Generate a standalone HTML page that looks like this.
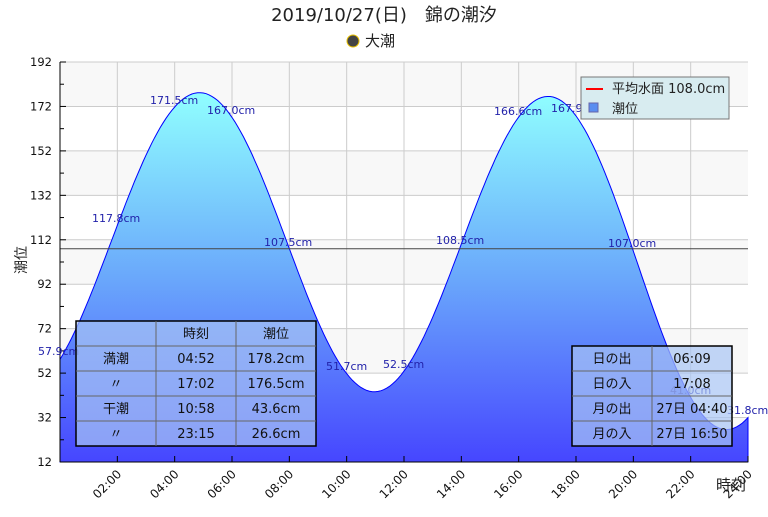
<!DOCTYPE html>
<html><head><meta charset="utf-8"><style>
body{margin:0;background:#fff;font-family:"Liberation Sans","Noto Sans CJK JP",sans-serif}
svg text{font-family:"DejaVu Sans","Noto Sans CJK JP",sans-serif}
</style></head><body>
<svg id="s" width="768" height="512" xmlns="http://www.w3.org/2000/svg">
<defs>
<linearGradient id="g" x1="0" y1="0" x2="0" y2="1">
<stop offset="0" stop-color="#90ffff"/><stop offset="0.5" stop-color="#6aa8fb"/><stop offset="1" stop-color="#4646ff"/>
</linearGradient>
</defs>
<g id="bands"></g>
<g id="grid" stroke="#cccccc" stroke-width="1"></g>
<path id="area" fill="url(#g)" stroke="#0000ff" stroke-width="1"/>
<line x1="60" x2="748" y1="248.7" y2="248.7" stroke="#444" stroke-width="1"/>
<g id="axis" stroke="#000"></g>
<g id="lbl" font-size="11" fill="#2222aa"></g>
<text x="384" y="21" font-size="18" text-anchor="middle" fill="#222">2019/10/27(日)　錦の潮汐</text>
<circle cx="353" cy="41" r="6" fill="#444" stroke="#e8c000" stroke-width="1"/>
<text x="365" y="46" font-size="15" fill="#222">大潮</text>
<text x="26" y="260" font-size="14" fill="#222" transform="rotate(-90 26 260)" text-anchor="middle">潮位</text>
<text x="731" y="490" font-size="15" fill="#222" text-anchor="middle">時刻</text>
<g>
<rect x="581" y="77" width="148" height="42" fill="#d8ecf0" stroke="#777"/>
<line x1="586" x2="603" y1="89" y2="89" stroke="#f00" stroke-width="2"/>
<text x="612" y="93" font-size="13" fill="#222">平均水面 108.0cm</text>
<rect x="589" y="103" width="9" height="9" fill="#5a8ef0" stroke="#66a"/>
<text x="612" y="113" font-size="13" fill="#222">潮位</text>
</g>
<g font-size="13" fill="#111" text-anchor="middle">
<rect x="76" y="321" width="240" height="125" fill="#a8c4f4" fill-opacity="0.7" stroke="#000" stroke-width="1.5"/>
<g stroke="#666"><line x1="156" x2="156" y1="321" y2="446"/><line x1="236" x2="236" y1="321" y2="446"/>
<line x1="76" x2="316" y1="346" y2="346"/><line x1="76" x2="316" y1="371" y2="371"/><line x1="76" x2="316" y1="396" y2="396"/><line x1="76" x2="316" y1="421" y2="421"/></g>
<text x="196" y="338">時刻</text><text x="276" y="338">潮位</text>
<text x="116" y="363">満潮</text><text x="196" y="363">04:52</text><text x="276" y="363">178.2cm</text>
<text x="116" y="388">〃</text><text x="196" y="388">17:02</text><text x="276" y="388">176.5cm</text>
<text x="116" y="413">干潮</text><text x="196" y="413">10:58</text><text x="276" y="413">43.6cm</text>
<text x="116" y="438">〃</text><text x="196" y="438">23:15</text><text x="276" y="438">26.6cm</text>
<rect x="572" y="346" width="160" height="100" fill="#a8c4f4" fill-opacity="0.7" stroke="#000" stroke-width="1.5"/>
<g stroke="#666"><line x1="652" x2="652" y1="346" y2="446"/>
<line x1="572" x2="732" y1="371" y2="371"/><line x1="572" x2="732" y1="396" y2="396"/><line x1="572" x2="732" y1="421" y2="421"/></g>
<text x="612" y="363">日の出</text><text x="692" y="363">06:09</text>
<text x="612" y="388">日の入</text><text x="692" y="388">17:08</text>
<text x="612" y="413">月の出</text><text x="692" y="413">27日 04:40</text>
<text x="612" y="438">月の入</text><text x="692" y="438">27日 16:50</text>
</g>
</svg>
<script>
var NS="http://www.w3.org/2000/svg";
function Y(v){return 62+(192-v)*400/180}
function X(h){return 60+h*688/24}
function el(p,t,a,txt){var e=document.createElementNS(NS,t);for(var k in a)e.setAttribute(k,a[k]);if(txt)e.textContent=txt;document.getElementById(p).appendChild(e);return e}
for(var v=12;v<192;v+=20){el("bands","rect",{x:60,y:Y(v+20),width:688,height:Y(v)-Y(v+20),fill:((v/20|0)%2==0)?"#f8f8f8":"#fff"})}
for(var v=12;v<=192;v+=20)el("grid","line",{x1:60,x2:748,y1:Y(v),y2:Y(v)});
for(var h=2;h<24;h+=2)el("grid","line",{x1:X(h),x2:X(h),y1:62,y2:462});
var ext=[[-1.3,44],[4.867,178.2],[10.967,43.6],[17.033,176.5],[23.25,26.6],[29.4,175]];
function tide(t){for(var i=0;i<ext.length-1;i++){var a=ext[i],b=ext[i+1];if(t>=a[0]&&t<=b[0]){var f=(1-Math.cos(Math.PI*(t-a[0])/(b[0]-a[0])))/2;return a[1]+(b[1]-a[1])*f}}return 0}
var d="M60,462";for(var t=0;t<=24.001;t+=0.1){d+=" L"+X(t).toFixed(1)+","+Y(tide(t)).toFixed(1)}d+=" L748,462 Z";
document.getElementById("area").setAttribute("d",d);
el("axis","line",{x1:60,x2:60,y1:62,y2:462});el("axis","line",{x1:60,x2:748,y1:462,y2:462});
for(var v=12;v<=192;v+=10){el("axis","line",{x1:60,x2:v%20==12?66:64,y1:Y(v),y2:Y(v)});}
for(var v=12;v<=192;v+=20){el("axis","text",{x:52,y:Y(v)+4,"font-size":11.5,"text-anchor":"end",fill:"#111",stroke:"none"},""+v);}
for(var h=2;h<=24;h+=2){el("axis","line",{x1:X(h),x2:X(h),y1:462,y2:456});
var s=(h<10?"0":"")+h+":00";var x=X(h)+2,y=472;
el("axis","text",{x:x,y:y+4,"font-size":12,"text-anchor":"end",fill:"#111",stroke:"none",transform:"rotate(-45 "+x+" "+y+")"},s);}
var L=[[38,355,"57.9cm"],[92,222,"117.8cm"],[150,104,"171.5cm"],[207,114,"167.0cm"],[264,246,"107.5cm"],[326,370,"51.7cm"],[383,368,"52.5cm"],[436,244,"108.5cm"],[494,115,"166.6cm"],[551,112,"167.9cm"],[608,247,"107.0cm"],[670,394,"41.0cm"],[727,414,"31.8cm"]];
L.forEach(function(l){el("lbl","text",{x:l[0],y:l[1]},l[2])});
</script>
</body></html>
